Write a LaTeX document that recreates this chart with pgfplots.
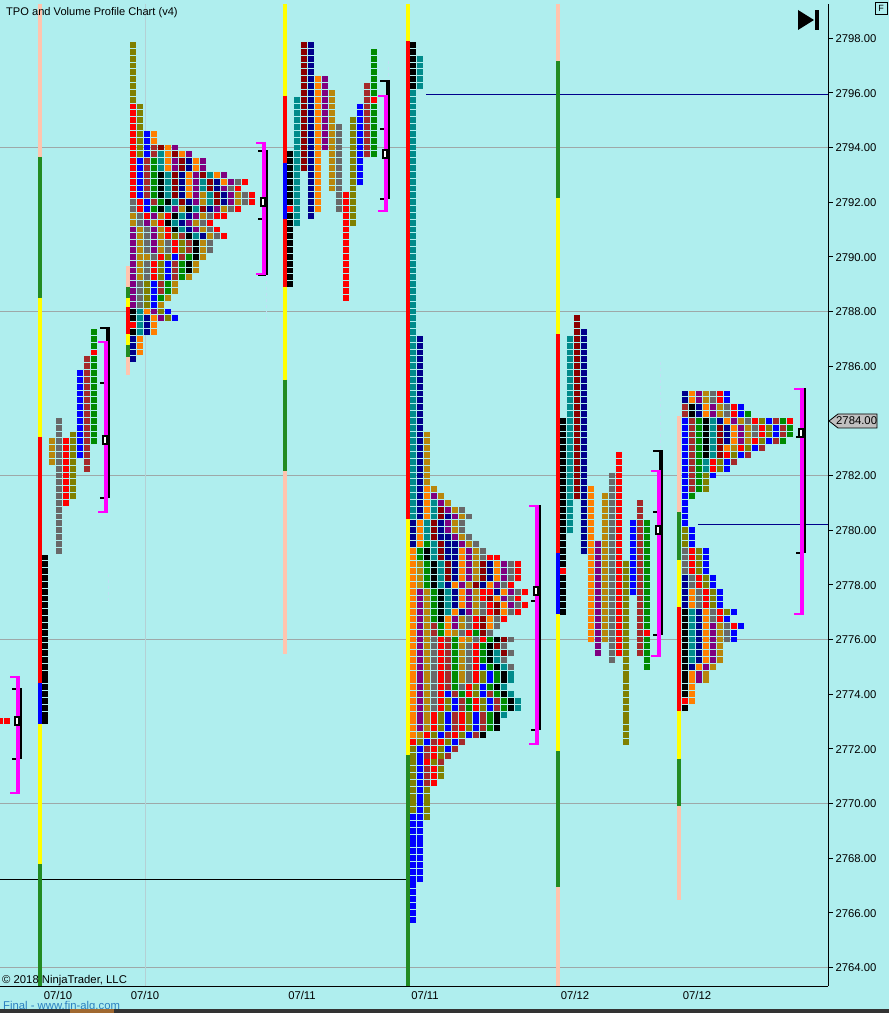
\documentclass[border=0pt]{standalone}
\usepackage{fontspec}
\setmainfont{Liberation Sans}
\usepackage{pgfplots}
\pgfplotsset{compat=1.18}

\definecolor{bg}{HTML}{AFEEEE}
\definecolor{cr}{HTML}{FF0000}
\definecolor{cb}{HTML}{0000FF}
\definecolor{cn}{HTML}{00008B}
\definecolor{ck}{HTML}{000000}
\definecolor{cg}{HTML}{008B00}
\definecolor{co}{HTML}{808000}
\definecolor{cw}{HTML}{A52A2A}
\definecolor{cm}{HTML}{8B0000}
\definecolor{ct}{HTML}{008B8B}
\definecolor{ca}{HTML}{FF7F00}
\definecolor{cp}{HTML}{800080}
\definecolor{cd}{HTML}{B8860B}
\definecolor{cy}{HTML}{696969}
\definecolor{pink}{HTML}{FFC4AE}
\definecolor{fgreen}{HTML}{228B22}
\definecolor{yel}{HTML}{FFFF00}
\definecolor{mag}{HTML}{FF00FF}
\definecolor{gridc}{HTML}{9EA8A8}
\definecolor{vgrid}{HTML}{B4D0D4}
\definecolor{paleb}{HTML}{C0E0F4}
\definecolor{tagc}{HTML}{C0C0C0}
\definecolor{finalc}{HTML}{2A7FC0}
\definecolor{barc}{HTML}{333333}
\definecolor{barb}{HTML}{A06830}

\pgfdeclareplotmark{tpo}{\pgfpathrectangle{\pgfpoint{-3pt}{-2.95pt}}{\pgfpoint{6pt}{5.9pt}}\pgfusepathqfill}
\pgfdeclareplotmark{tpobox}{\pgfsetlinewidth{2pt}\pgfsetstrokecolor{black}\pgfsetfillcolor{white}%
  \pgfpathrectangle{\pgfpoint{-2.4pt}{-4pt}}{\pgfpoint{4.8pt}{8pt}}\pgfusepath{fill,stroke}}

% blocks: row n is price 2797.75 - n/4, x is the column's position on the time axis
\newcount\xx \newcount\rr
\def\ptsr{}\def\ptsb{}\def\ptsn{}\def\ptsk{}\def\ptsg{}\def\ptso{}\def\ptsw{}
\def\ptsm{}\def\ptst{}\def\ptsa{}\def\ptsp{}\def\ptsd{}\def\ptsy{}
\def\addblock#1{\expandafter\xdef\csname pts#1\endcsname{\csname pts#1\endcsname(\the\xx,\yy)}}
\def\Rloop#1{\ifx#1\relax\else\addblock{#1}\advance\xx by 7 \expandafter\Rloop\fi}
\def\R#1#2#3{\xx=#1\relax\pgfmathsetmacro\yy{2797.75-0.25*#2}\Rloop#3\relax}
\def\C#1#2#3#4{\xx=#1\relax\rr=#2\relax
  \loop\pgfmathsetmacro\yy{2797.75-0.25*\the\rr}\addblock{#4}\advance\rr by 1\relax
  \ifnum\rr<\numexpr#3+1\relax\repeat}

% session 07/10 first part
\R{0}{99}{r}\R{7}{99}{r}
\C{45}{75}{99}{k}
\C{52}{58}{61}{d}\C{59}{55}{74}{y}\C{66}{58}{67}{r}\C{73}{57}{66}{o}
\C{80}{48}{60}{b}\C{87}{46}{62}{w}
\C{94}{42}{44}{g}\C{94}{45}{45}{r}\C{94}{46}{58}{g}

% session 07/10 second part
\C{133}{0}{8}{o}\C{133}{9}{14}{r}\C{140}{9}{14}{o}\C{147}{13}{14}{b}\C{154}{13}{14}{a}
\R{133}{15}{robwmap}
\R{133}{16}{robwtamap}
\R{133}{17}{rbwgtapmnap}
\R{133}{18}{rbwgtapmnap}
\R{133}{19}{rbwgktmnapmtap}
\R{133}{20}{rbwgktmnaptmnapyr}
\R{133}{21}{rbwgktmnaptmnpyr}
\R{133}{22}{rbwgktmnapdtmnpdyr}
\R{133}{23}{yrbwgktmnpdtmnpdyr}
\R{133}{24}{yrbgktpdktmnpdyr}
\R{133}{25}{dyrpdrktnpdyrr}
\R{133}{26}{dypdrktnpdyr}
\R{133}{27}{pdypdrktnpdyr}
\R{133}{28}{pdypdrowktndyr}
\R{133}{29}{pdypdyrowkdy}
\R{133}{30}{pdypdyrowkdy}
\R{133}{31}{pddyrobwgkd}
\R{133}{32}{pdyrobwgkd}
\R{133}{33}{pdyrobwgkd}
\R{133}{34}{pdyrobwgd}
\R{133}{35}{pyobwgd}
\R{133}{36}{pyobwgd}
\R{133}{37}{pyobgd}
\R{133}{38}{pyobd}
\R{133}{39}{ktapob}
\R{133}{40}{ktnapob}
\R{133}{41}{rtna}
\R{133}{42}{ktna}
\R{133}{43}{na}\R{133}{44}{na}\R{133}{45}{na}\R{133}{46}{n}

% session 07/11 first part
\C{290}{16}{23}{k}\C{290}{24}{24}{r}\C{290}{25}{35}{k}
\C{297}{8}{26}{t}\C{304}{0}{18}{m}\C{311}{0}{25}{n}\C{318}{5}{24}{a}
\C{325}{5}{15}{p}\C{332}{7}{21}{d}\C{339}{12}{24}{y}\C{346}{22}{37}{r}
\C{353}{11}{26}{o}\C{360}{9}{20}{b}\C{367}{6}{16}{w}
\C{374}{1}{7}{g}\C{374}{8}{8}{r}\C{374}{9}{16}{g}

% session 07/11 second part
\C{413}{0}{6}{k}\C{420}{2}{6}{t}\C{413}{7}{64}{t}\C{420}{43}{64}{n}\C{427}{57}{64}{d}
\R{413}{65}{tnad}
\R{413}{66}{tnapd}
\R{413}{67}{tnatpd}
\R{413}{68}{tnatmpdy}
\R{413}{69}{tnatmnpdy}
\R{413}{70}{natmnpdy}
\R{413}{71}{natmnpdy}
\R{413}{72}{natmnnpdy}
\R{413}{73}{nagtmnnpdy}
\R{413}{74}{agktmnnapdy}
\R{413}{75}{agktmnnapdyrr}
\R{413}{76}{adgktmnapdmnapyr}
\R{413}{77}{adgktmnapdmnapyr}
\R{413}{78}{adgktmnapdmnapyr}
\R{413}{79}{adgktnapdmnapyr}
\R{413}{80}{apdgktnapdrrnapyr}
\R{413}{81}{apdgktnapdrmapyr}
\R{413}{82}{apdgktnapdyrmapyr}
\R{413}{83}{apdgktanpdyrmayr}
\R{413}{84}{apdgkapdyrmayr}
\R{413}{85}{apdwgapdyrmay}
\R{413}{86}{apdwgadyrgmy}
\R{413}{87}{apdyrwgadyrgkmy}
\R{413}{88}{apdyrwgdyrgkmy}
\R{413}{89}{apdyrwgdyrgktmy}
\R{413}{90}{apdyrwgdyrgkty}
\R{413}{91}{apdyrwgdyrbgkty}
\R{413}{92}{apdyrwgdyrobgkt}
\R{413}{93}{apdyrwgdyrobgkt}
\R{413}{94}{apdyrwgyrobgkt}
\R{413}{95}{apdyrbwgrobwgkt}
\R{413}{96}{apdyrobwgrobwgkt}
\R{413}{97}{apdyrobwgrobwgkt}
\R{413}{98}{apdrobwrobwgkt}
\R{413}{99}{apdrobwrobwgk}
\R{413}{100}{apdrobwrobwgk}
\R{413}{101}{adrobwrobwk}
\R{413}{102}{robwrobw}
\R{413}{103}{obwrobw}
\R{413}{104}{obwrow}
\R{413}{105}{obrow}
\C{413}{106}{112}{o}\C{413}{113}{128}{b}\C{420}{106}{122}{b}
\C{427}{106}{108}{w}\C{427}{109}{113}{o}\C{434}{106}{108}{r}\C{441}{106}{107}{o}

% session 07/12 first part
\C{563}{55}{76}{k}\C{563}{77}{77}{r}\C{563}{78}{83}{k}
\C{570}{43}{71}{t}\C{577}{40}{66}{m}\C{584}{42}{74}{n}\C{591}{65}{87}{a}
\C{598}{73}{89}{p}\C{605}{66}{87}{d}\C{612}{63}{90}{y}\C{619}{60}{89}{r}
\C{626}{76}{102}{o}\C{633}{70}{80}{b}\C{640}{67}{89}{w}
\C{647}{70}{85}{g}\C{647}{86}{86}{r}\C{647}{87}{91}{g}

% session 07/12 second part
\R{685}{51}{napdyrb}
\R{685}{52}{napdyrb}
\R{685}{53}{wknapdyrb}
\R{685}{54}{wknapdyrbg}
\R{685}{55}{bwgktnapdyrobwgr}
\R{685}{56}{bwgktmnapdyrobwg}
\R{685}{57}{bwgktmnapdyrobwg}
\R{685}{58}{bwgktmnapdrobwg}
\R{685}{59}{bwgktmadrobw}
\R{685}{60}{bwgktmrobw}
\R{685}{61}{bwgtrobw}
\R{685}{62}{bwgtrob}
\R{685}{63}{bwgob}
\R{685}{64}{bwgo}
\R{685}{65}{bwgo}
\R{685}{66}{bg}
\R{685}{67}{b}\R{685}{68}{b}\R{685}{69}{b}\R{685}{70}{b}
\R{685}{71}{ob}\R{685}{72}{ob}\R{685}{73}{ob}
\R{685}{74}{yrob}\R{685}{75}{yrob}\R{685}{76}{yrob}\R{685}{77}{yrob}
\R{685}{78}{nyrob}\R{685}{79}{nyrob}
\R{685}{80}{nayrob}\R{685}{81}{nayrob}\R{685}{82}{nayrob}
\R{685}{83}{ktnayrob}
\R{685}{84}{ktnayrb}
\R{685}{85}{ktnapdyrb}
\R{685}{86}{ktnapdyb}
\R{685}{87}{ktnapdyb}
\R{685}{88}{ktnapd}\R{685}{89}{ktnapd}\R{685}{90}{ktnapd}
\R{685}{91}{knapd}
\R{685}{92}{kapd}\R{685}{93}{kapd}
\R{685}{94}{ka}\R{685}{95}{ka}\R{685}{96}{ra}\R{685}{97}{k}

\newcommand\plotclass[1]{\edef\tmp{\noexpand\addplot[only marks,mark=tpo,color=c#1,forget plot]
  coordinates {\csname pts#1\endcsname};}\tmp}
\newcommand\Seg[6]{\addplot[color=#1,line width=#2pt,forget plot,no markers] coordinates {(#3,#4)(#5,#6)};}
% x of magenta, magenta top/bottom, black top/bottom, two black ticks, box
\newcommand\Bracket[8]{%
  \edef\tmp{\noexpand\Seg{black}{4}{\the\numexpr#1+2}{#4}{\the\numexpr#1+2}{#5}%
    \noexpand\Seg{black}{2}{\the\numexpr#1-6}{#4}{\the\numexpr#1+4}{#4}%
    \noexpand\Seg{black}{2}{\the\numexpr#1-6}{#5}{\the\numexpr#1+2}{#5}%
    \noexpand\Seg{black}{2}{\the\numexpr#1-6}{#6}{\the\numexpr#1+2}{#6}%
    \noexpand\Seg{black}{2}{\the\numexpr#1-6}{#7}{\the\numexpr#1+2}{#7}%
    \noexpand\Seg{mag}{4}{#1}{#2}{#1}{#3}%
    \noexpand\Seg{mag}{2}{\the\numexpr#1-8}{#2}{\the\numexpr#1+2}{#2}%
    \noexpand\Seg{mag}{2}{\the\numexpr#1-8}{#3}{\the\numexpr#1+2}{#3}%
    \noexpand\addplot[only marks,mark=tpobox,forget plot] coordinates {(\the\numexpr#1-1,#8)};}\tmp}

\begin{document}
\begin{tikzpicture}[x=1pt,y=1pt]
\clip (0,0) rectangle (889,1013);
\fill[bg] (0,0) rectangle (889,1013);
\begin{axis}[
  at={(0pt,27pt)},anchor=south west,
  scale only axis,width=828pt,height=981.5pt,
  xmin=0,xmax=828,ymin=2763.32,ymax=2799.233,
  axis x line*=bottom,axis y line*=right,
  axis line style={black,line width=1pt,-},
  xtick={58,145,302,425,575,697},
  xticklabels={07/10,07/10,07/11,07/11,07/12,07/12},
  x tick style={draw=none},
  xticklabel style={yshift=3pt},
  ytick={2764,2766,...,2798},
  y tick style={black,line width=0.8pt},
  tick align=outside,major tick length=5pt,
  yticklabel style={/pgf/number format/fixed,/pgf/number format/fixed zerofill,
    /pgf/number format/precision=2,/pgf/number format/1000 sep={},
    /pgf/number format/assume math mode=true,xshift=-1pt,yshift=-0.5pt},
  tick label style={font=\fontsize{11.3}{13}\selectfont},
  clip=true,
]
% grid
\Seg{gridc}{1}{0}{2794}{828}{2794}
\Seg{gridc}{1}{0}{2788}{828}{2788}
\Seg{gridc}{1}{0}{2782}{828}{2782}
\Seg{gridc}{1}{0}{2776}{828}{2776}
\Seg{gridc}{1}{0}{2770}{828}{2770}
\Seg{gridc}{1}{0}{2764}{828}{2764}
\Seg{vgrid}{1}{145}{2763.32}{145}{2799.233}
% level lines
\Seg{cn}{1}{426}{2795.95}{828}{2795.95}
\Seg{cn}{1}{698}{2780.22}{828}{2780.22}
\Seg{black}{1}{0}{2767.22}{408}{2767.22}
% faint marks
\addplot[paleb,line width=0.6pt,dashed,forget plot,no markers] coordinates {(388,2797.15)(388,2796.42)};
\addplot[paleb,line width=0.6pt,dashed,forget plot,no markers] coordinates {(266,2789.35)(266,2787.62)};
\addplot[paleb,line width=0.6pt,dashed,forget plot,no markers] coordinates {(660,2786.17)(660,2782.91)};
\addplot[paleb,line width=0.6pt,dashed,forget plot,no markers] coordinates {(108,2778.39)(108,2777.4)};
% session stripes
\Seg{pink}{4}{40}{2799.233}{40}{2793.64}
\Seg{fgreen}{4}{40}{2793.64}{40}{2788.51}
\Seg{yel}{4}{40}{2788.51}{40}{2783.39}
\Seg{cr}{4}{40}{2783.39}{40}{2774.39}
\Seg{cb}{4}{40}{2774.39}{40}{2772.89}
\Seg{yel}{4}{40}{2772.89}{40}{2767.77}
\Seg{fgreen}{4}{40}{2767.77}{40}{2763.32}
\Seg{pink}{4}{128}{2789.65}{128}{2788.91}
\Seg{fgreen}{4}{128}{2788.91}{128}{2788.51}
\Seg{yel}{4}{128}{2788.51}{128}{2788.15}
\Seg{cr}{4}{128}{2788.15}{128}{2787.16}
\Seg{yel}{4}{128}{2787.16}{128}{2786.79}
\Seg{fgreen}{4}{128}{2786.79}{128}{2786.35}
\Seg{pink}{4}{128}{2786.35}{128}{2785.66}
\Seg{yel}{4}{285}{2799.233}{285}{2795.90}
\Seg{cr}{4}{285}{2795.90}{285}{2793.42}
\Seg{cb}{4}{285}{2793.42}{285}{2791.40}
\Seg{cr}{4}{285}{2791.40}{285}{2788.91}
\Seg{yel}{4}{285}{2788.91}{285}{2785.51}
\Seg{fgreen}{4}{285}{2785.51}{285}{2782.15}
\Seg{pink}{4}{285}{2782.15}{285}{2775.45}
\Seg{yel}{4}{408}{2799.233}{408}{2797.88}
\Seg{cr}{4}{408}{2797.88}{408}{2780.39}
\Seg{yel}{4}{408}{2780.39}{408}{2771.79}
\Seg{fgreen}{4}{408}{2771.79}{408}{2763.32}
\Seg{pink}{4}{558}{2799.233}{558}{2797.15}
\Seg{fgreen}{4}{558}{2797.15}{558}{2792.17}
\Seg{yel}{4}{558}{2792.17}{558}{2787.16}
\Seg{cr}{4}{558}{2787.16}{558}{2779.15}
\Seg{cb}{4}{558}{2779.15}{558}{2776.92}
\Seg{yel}{4}{558}{2776.92}{558}{2771.91}
\Seg{fgreen}{4}{558}{2771.91}{558}{2766.93}
\Seg{pink}{4}{558}{2766.93}{558}{2763.32}
\Seg{pink}{4}{679}{2784.16}{679}{2780.65}
\Seg{fgreen}{4}{679}{2780.65}{679}{2778.89}
\Seg{yel}{4}{679}{2778.89}{679}{2777.17}
\Seg{cr}{4}{679}{2777.17}{679}{2773.40}
\Seg{yel}{4}{679}{2773.40}{679}{2771.64}
\Seg{fgreen}{4}{679}{2771.64}{679}{2769.89}
\Seg{pink}{4}{679}{2769.89}{679}{2766.45}
% blocks
\plotclass{r}\plotclass{b}\plotclass{n}\plotclass{k}\plotclass{g}\plotclass{o}\plotclass{w}
\plotclass{m}\plotclass{t}\plotclass{a}\plotclass{p}\plotclass{d}\plotclass{y}
% value area brackets
\Bracket{18}{2774.64}{2770.40}{2774.17}{2771.61}{2774.17}{2771.61}{2773.03}
\Bracket{106}{2786.90}{2780.65}{2787.41}{2781.16}{2785.40}{2781.16}{2783.28}
\Bracket{264}{2794.15}{2789.39}{2793.89}{2789.35}{2791.40}{2789.35}{2792.02}
\Bracket{386}{2795.90}{2791.66}{2796.42}{2792.10}{2794.66}{2792.10}{2793.78}
\Bracket{537}{2780.90}{2772.16}{2780.90}{2772.67}{2777.39}{2772.67}{2777.79}
\Bracket{659}{2782.15}{2775.41}{2782.91}{2776.15}{2780.65}{2776.15}{2780.02}
\Bracket{802}{2785.15}{2776.92}{2785.15}{2779.15}{2783.39}{2779.15}{2783.54}
\end{axis}
% chart furniture
\node[anchor=west,inner sep=0pt,font=\fontsize{11.1}{12}\selectfont] at (6,1000.5) {TPO and Volume Profile Chart (v4)};
\node[anchor=west,inner sep=0pt,font=\fontsize{11.3}{12}\selectfont] at (2,32) {© 2018 NinjaTrader, LLC};
\node[anchor=west,inner sep=0pt,font=\fontsize{11.3}{12}\selectfont,text=finalc] at (3,6.5) {Final - www.fin-alg.com};
\fill[barc] (0,0) rectangle (889,3.6);
\fill[barb] (70,0) rectangle (114,3.6);
\fill[black] (798,1003) -- (814,993) -- (798,983) -- cycle;
\fill[black] (815,983) rectangle (819,1003);
\draw[black,line width=0.8pt] (875.5,999) rectangle (887,1010.5);
\node[inner sep=0pt,font=\fontsize{9}{10}\selectfont] at (881.2,1004.7) {F};
\draw[black,fill=tagc,line width=0.8pt] (829,592) -- (838,599) -- (877,599) -- (877,585) -- (838,585) -- cycle;
\node[anchor=west,inner sep=0pt,font=\fontsize{11.3}{13}\selectfont] at (836,592) {2784.00};
\end{tikzpicture}
\end{document}
